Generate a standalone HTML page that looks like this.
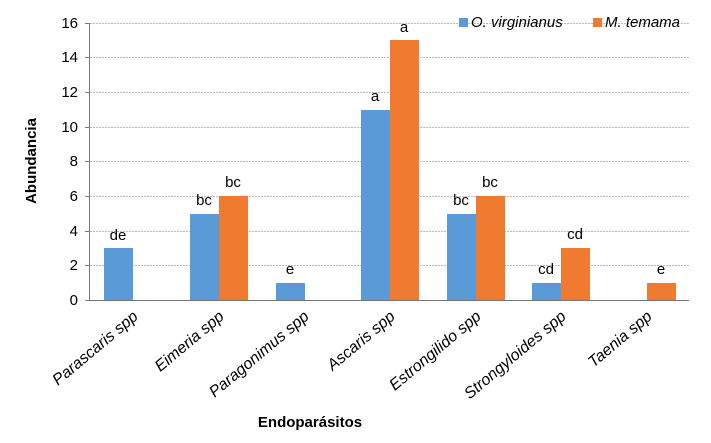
<!DOCTYPE html>
<html><head><style>body{margin:0;background:#fff}</style></head><body>
<svg width="711" height="438" viewBox="0 0 711 438" xmlns="http://www.w3.org/2000/svg" font-family="Liberation Sans, Arial, sans-serif">
<g stroke="#bbb" stroke-dasharray="2,1" stroke-width="1">
<line x1="90" x2="689" y1="23.5" y2="23.5"/><line x1="90" x2="689" y1="57.5" y2="57.5"/>
<line x1="90" x2="689" y1="92.5" y2="92.5"/><line x1="90" x2="689" y1="127.5" y2="127.5"/>
<line x1="90" x2="689" y1="161.5" y2="161.5"/><line x1="90" x2="689" y1="196.5" y2="196.5"/>
<line x1="90" x2="689" y1="231.5" y2="231.5"/><line x1="90" x2="689" y1="265.5" y2="265.5"/>
</g>
<g font-size="15" fill="#000" text-anchor="end">
<text x="78" y="305">0</text><text x="78" y="270">2</text><text x="78" y="236">4</text><text x="78" y="201">6</text>
<text x="78" y="166">8</text><text x="78" y="132">10</text><text x="78" y="97">12</text><text x="78" y="62">14</text><text x="78" y="28">16</text>
</g>
<g stroke="#777" stroke-width="1">
<line x1="89.5" y1="23" x2="89.5" y2="300"/><line x1="85" y1="300.5" x2="689" y2="300.5"/>
<line x1="85" y1="23.5" x2="90" y2="23.5"/><line x1="85" y1="57.5" x2="90" y2="57.5"/><line x1="85" y1="92.5" x2="90" y2="92.5"/>
<line x1="85" y1="127.5" x2="90" y2="127.5"/><line x1="85" y1="161.5" x2="90" y2="161.5"/><line x1="85" y1="196.5" x2="90" y2="196.5"/>
<line x1="85" y1="231.5" x2="90" y2="231.5"/><line x1="85" y1="265.5" x2="90" y2="265.5"/>
</g>
<g fill="#5a9ad6">
<rect x="104" y="248" width="29" height="52"/>
<rect x="190" y="214" width="29" height="86"/>
<rect x="276" y="283" width="29" height="17"/>
<rect x="361" y="110" width="29" height="190"/>
<rect x="447" y="214" width="29" height="86"/>
<rect x="532" y="283" width="29" height="17"/>
</g>
<g fill="#f07b30">
<rect x="219" y="196" width="29" height="104"/>
<rect x="390" y="40" width="29" height="260"/>
<rect x="476" y="196" width="29" height="104"/>
<rect x="561" y="248" width="29" height="52"/>
<rect x="647" y="283" width="29" height="17"/>
</g>
<g font-size="15" text-anchor="middle" fill="#000">
<text x="118" y="240">de</text>
<text x="204" y="205">bc</text><text x="233" y="187">bc</text>
<text x="290" y="274">e</text>
<text x="375" y="101">a</text><text x="404" y="32">a</text>
<text x="461" y="205">bc</text><text x="490" y="187">bc</text>
<text x="546" y="274">cd</text><text x="575" y="239">cd</text>
<text x="661" y="274">e</text>
</g>
<g font-size="16" font-style="italic" text-anchor="end" fill="#000">
<text transform="translate(139,318) rotate(-40)">Parascaris spp</text>
<text transform="translate(225,318) rotate(-40)">Eimeria spp</text>
<text transform="translate(310,318) rotate(-40)">Paragonimus spp</text>
<text transform="translate(396,318) rotate(-40)">Ascaris spp</text>
<text transform="translate(482,318) rotate(-40)">Estrongilido spp</text>
<text transform="translate(567,318) rotate(-40)">Strongyloides spp</text>
<text transform="translate(653,318) rotate(-40)">Taenia spp</text>
</g>
<text x="310" y="427" font-size="15" font-weight="bold" text-anchor="middle">Endoparásitos</text>
<text transform="translate(36,161) rotate(-90)" font-size="15" font-weight="bold" text-anchor="middle">Abundancia</text>
<rect x="459" y="18" width="9" height="9" fill="#5a9ad6"/>
<text x="471" y="27" font-size="15" font-style="italic">O. virginianus</text>
<rect x="593" y="18" width="9" height="9" fill="#f07b30"/>
<text x="605" y="27" font-size="15" font-style="italic">M. temama</text>
</svg>
</body></html>
